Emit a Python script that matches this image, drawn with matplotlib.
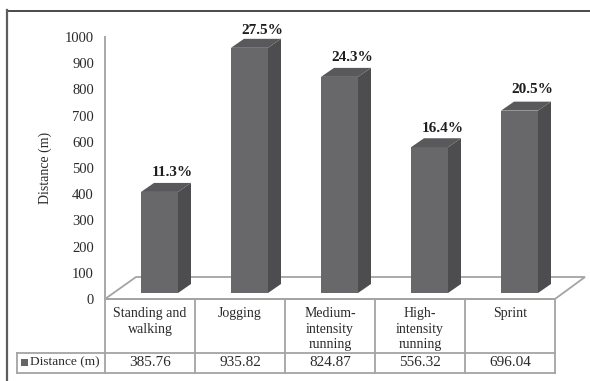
import matplotlib
matplotlib.use("Agg")
import matplotlib.pyplot as plt
from matplotlib.lines import Line2D
from matplotlib.patches import Polygon, Rectangle

categories = ["Standing and\nwalking", "Jogging", "Medium-\nintensity\nrunning", "High-\nintensity\nrunning", "Sprint"]
distance = [385.76, 935.82, 824.87, 556.32, 696.04]
distance_labels = ["385.76", "935.82", "824.87", "556.32", "696.04"]
percent = ["11.3%", "27.5%", "24.3%", "16.4%", "20.5%"]
yticks = list(range(0, 1001, 100))
series_name = "Distance (m)"

W, H = 590, 381
plt.rcParams["font.family"] = ["Liberation Serif", "DejaVu Serif"]
fig = plt.figure(figsize=(W / 100, H / 100), dpi=100, facecolor="white")

# outer frame: only the top and left edges fall inside the picture
fig.add_artist(Line2D([7 / W, 1], [1 - 10.5 / H, 1 - 10.5 / H], transform=fig.transFigure,
                      color="#3c3c3c", lw=1.3))
fig.add_artist(Line2D([7 / W, 7 / W], [0, 1 - 10 / H], transform=fig.transFigure,
                      color="#5e5e5e", lw=1.6))

ax = fig.add_axes([105 / W, 1 - 299 / H, 450 / W, 262 / H])
ax.set_xlim(0, 5)
ax.set_ylim(0, 1000)
ax.patch.set_alpha(0)
for s in ("top", "right", "bottom"):
    ax.spines[s].set_visible(False)
ax.spines["left"].set_color("#a8a8a8")
ax.spines["left"].set_linewidth(1.4)
ax.set_xticks([])
ax.set_yticks(yticks)
ax.tick_params(axis="y", length=0, pad=8, labelsize=10.5, labelcolor="#2a2a2a")
ax.set_ylabel("Distance (m)", fontsize=10, color="#2a2a2a", labelpad=9)

px = 5 / 450      # data x per pixel
py = 1000 / 262   # data y per pixel
grid = "#a4a4a4"

# floor
fl = [(0, 0), (31 * px, 22 * py), (480 * px, 22 * py), (450 * px, 0)]
ax.add_patch(Polygon(fl, closed=True, fill=False, ec=grid, lw=1.3, clip_on=False, zorder=1))

# bars
bw = 37 * px
dx, dy = 13 * px, 9 * py
base_off = 6 * py
label_nudge = [0, -2, 0, -1, 2]
for i, v in enumerate(distance):
    x0 = i + 0.5 + 9.5 * px - bw / 2
    x1 = x0 + bw
    b = base_off
    t = base_off + v
    ax.add_patch(Polygon([(x0, b), (x1, b), (x1, t), (x0, t)], fc="#68686a", ec="none", zorder=3))
    ax.add_patch(Polygon([(x1, b), (x1 + dx, b + dy), (x1 + dx, t + dy), (x1, t)], fc="#4d4d4f", ec="none", zorder=3, clip_on=False))
    ax.add_patch(Polygon([(x0, t), (x1, t), (x1 + dx, t + dy), (x0 + dx, t + dy)], fc="#59595b", ec="none", zorder=3, clip_on=False))
    ax.text(x0 + bw / 2 + 13 * px, t + dy + (4 + label_nudge[i]) * py, percent[i], ha="center", va="bottom",
            fontsize=11, fontweight="bold", color="#1e1e1e", clip_on=False, zorder=4)

# data table below the axis
t1, t2 = -53.5 * py, -73.5 * py
left = -88 * px
kw = dict(color=grid, lw=1.3, clip_on=False)
ax.plot([0, 5], [0, 0], **kw)
ax.plot([left, 5], [t1, t1], **kw)
ax.plot([left, 5], [t2, t2], **kw)
ax.plot([left, left], [t1, t2], **kw)
for i in range(6):
    ax.plot([i, i], [0, t2], **kw)
for i, c in enumerate(categories):
    ax.text(i + 0.5, -8 * py, c, ha="center", va="top", fontsize=10, color="#2a2a2a",
            linespacing=1.27, clip_on=False)
    ax.text(i + 0.5, (t1 + t2) / 2, distance_labels[i], ha="center", va="center", fontsize=11,
            color="#2a2a2a", clip_on=False)
ax.add_patch(Rectangle((left + 4 * px, (t1 + t2) / 2 - 3.5 * py), 7 * px, 7 * py, fc="#666668", ec="none", clip_on=False))
ax.text(left + 13 * px, (t1 + t2) / 2, series_name, ha="left", va="center", fontsize=9.6,
        color="#2a2a2a", clip_on=False)

fig.savefig("out.png", dpi=100)
